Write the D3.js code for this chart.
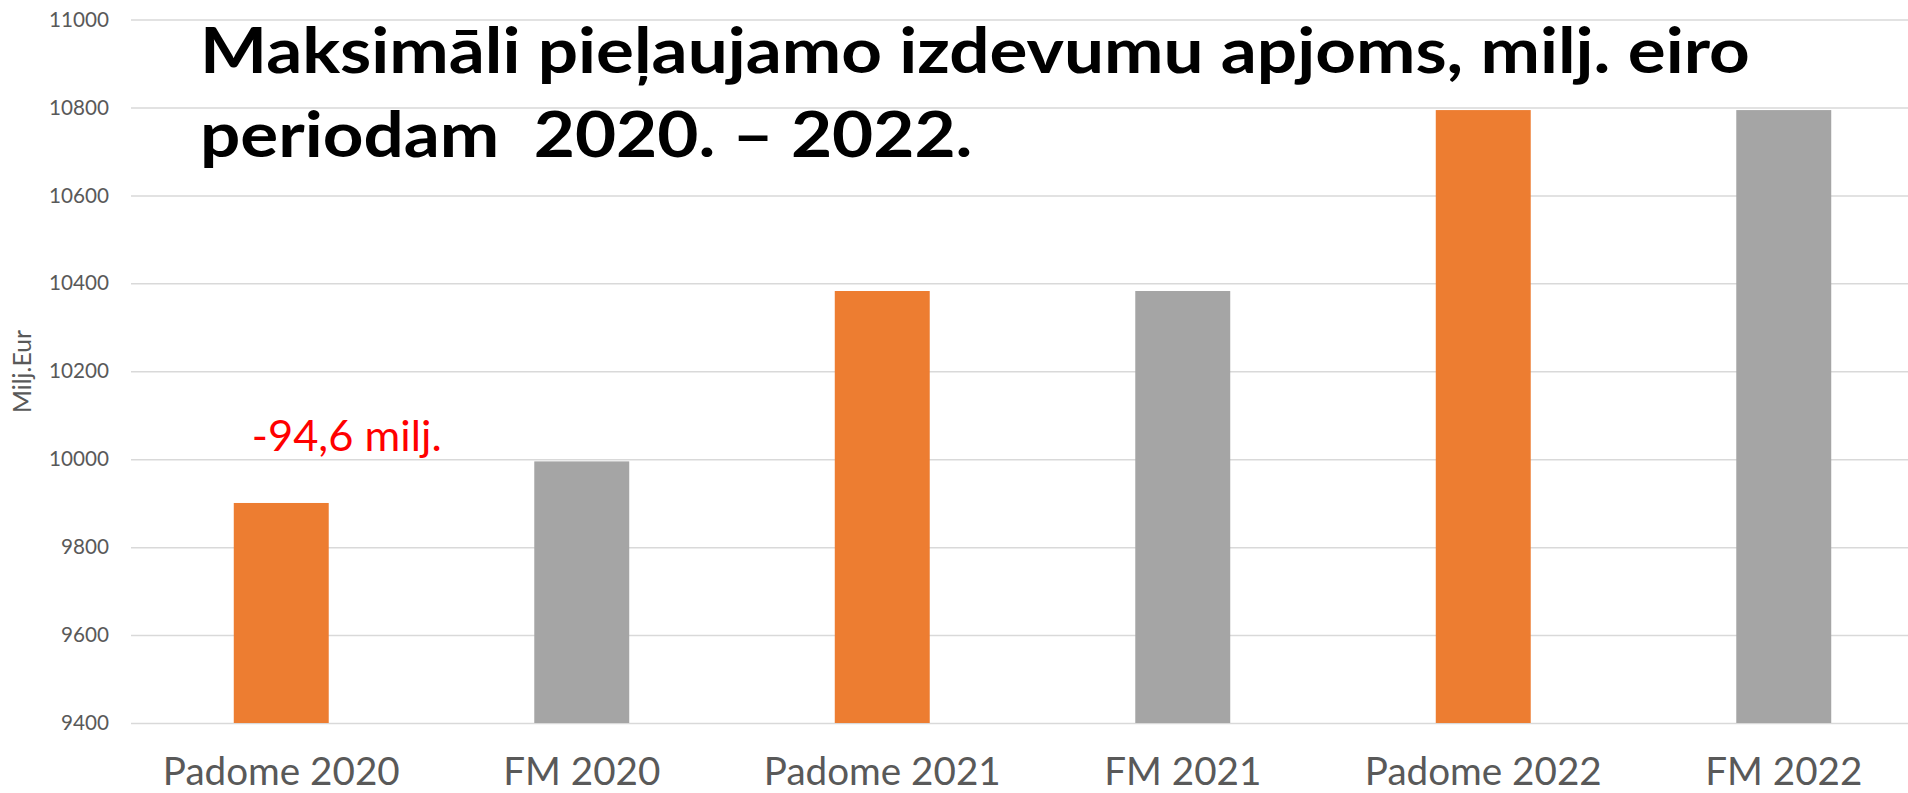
<!DOCTYPE html>
<html>
<head>
<meta charset="utf-8">
<script src="https://cdn.jsdelivr.net/npm/d3@7"></script>
<style>
  html, body { margin: 0; padding: 0; background: #fff; overflow: hidden; }
  svg { display: block; }
  text { white-space: pre; }
</style>
</head>
<body>
<div id="chart"></div>
<script>
// Data
const categories = ["Padome 2020", "FM 2020", "Padome 2021", "FM 2021", "Padome 2022", "FM 2022"];
const values = [9900.4, 9995.0, 10382.5, 10382.5, 10794, 10794];
const barColors = ["#ED7D31", "#A5A5A5", "#ED7D31", "#A5A5A5", "#ED7D31", "#A5A5A5"];
const yTicks = [9400, 9600, 9800, 10000, 10200, 10400, 10600, 10800, 11000];
const titleLines = ["Maksimāli pieļaujamo izdevumu apjoms, milj. eiro", "periodam  2020. – 2022."];
const yTitle = "Milj.Eur";
const note = "-94,6 milj.";

const width = 1908, height = 793;
const font = "Lato, 'Open Sans', sans-serif";

const svg = d3.select("#chart")
    .append("svg")
    .attr("width", width)
    .attr("height", height);

// scale text so that it takes a given width
function fitWidth(sel, target) {
    const base = 40;
    sel.attr("font-size", base);
    const w = sel.node().getComputedTextLength();
    const size = base * target / w;
    sel.attr("font-size", size);
    return size;
}

const x = d3.scaleBand()
    .domain(categories)
    .range([131, 1934])
    .paddingInner(0.684)
    .paddingOuter(0.342);

const y = d3.scaleLinear()
    .domain([9400, 11000])
    .range([723, 19.5]);

// gridlines + tick labels
const yAxis = svg.append("g")
    .attr("transform", "translate(131,0)")
    .call(d3.axisLeft(y).tickValues(yTicks).tickSize(-1803).tickPadding(22).tickFormat(d3.format("d")));
yAxis.select(".domain").remove();
yAxis.selectAll(".tick line")
    .attr("stroke", "#D9D9D9")
    .attr("stroke-width", 1.5);
const tickText = yAxis.selectAll(".tick text")
    .attr("fill", "#595959")
    .attr("font-family", font);
const tickSize = fitWidth(yAxis.select(".tick:last-of-type text"), 60);
tickText.attr("font-size", tickSize);

// bars
svg.append("g")
    .selectAll("rect")
    .data(values)
    .join("rect")
    .attr("x", (d, i) => x(categories[i]))
    .attr("y", d => y(d))
    .attr("width", x.bandwidth())
    .attr("height", d => y(9400) - y(d))
    .attr("fill", (d, i) => barColors[i]);

// category labels
const xLabels = svg.append("g")
    .selectAll("text")
    .data(categories)
    .join("text")
    .attr("x", d => x(d) + x.bandwidth() / 2)
    .attr("y", 785)
    .attr("text-anchor", "middle")
    .attr("fill", "#595959")
    .attr("font-family", font)
    .text(d => d);
const labelSize = fitWidth(xLabels.filter((d, i) => i === 0), 237);
xLabels.attr("font-size", labelSize);

// y axis title
const yt = svg.append("text")
    .attr("transform", "translate(31,371.5) rotate(-90)")
    .attr("text-anchor", "middle")
    .attr("fill", "#595959")
    .attr("font-family", font)
    .text(yTitle);
fitWidth(yt, 83);

// annotation
const noteText = svg.append("text")
    .attr("x", x(categories[0]) + 18)
    .attr("y", y(10000) - 8)
    .attr("fill", "#FF0000")
    .attr("font-family", font)
    .text(note);
fitWidth(noteText, 190);

// title: Calibri-like, taller and narrower, so squeeze it horizontally
const titleG = svg.append("g");
const title = titleG.selectAll("text")
    .data(titleLines)
    .join("text")
    .attr("x", 0)
    .attr("y", (d, i) => 73 + i * 84)
    .attr("fill", "#000")
    .attr("font-weight", "bold")
    .attr("font-size", 64)
    .attr("font-family", font)
    .text(d => d);
const w0 = title.filter((d, i) => i === 0).node().getComputedTextLength();
titleG.attr("transform", `translate(200,0) scale(${1550 / w0},1)`);
</script>
</body>
</html>
